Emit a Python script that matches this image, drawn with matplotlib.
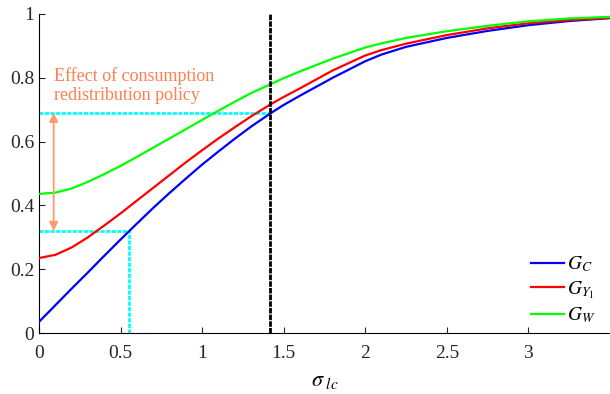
import matplotlib
matplotlib.use("Agg")
import matplotlib.pyplot as plt

plt.rcParams['font.family'] = ['Liberation Serif', 'DejaVu Serif']
plt.rcParams['mathtext.fontset'] = 'stix'

# values
sigma = [0, 0.1, 0.2, 0.3, 0.4, 0.5, 0.6, 0.7, 0.8, 0.9, 1.0, 1.1, 1.2, 1.3, 1.42,
         1.5, 1.6, 1.8, 2.0, 2.1, 2.25, 2.5, 2.75, 3.0, 3.25, 3.5]
g_c = [0.035, 0.087, 0.139, 0.19, 0.242, 0.293, 0.343, 0.392, 0.439, 0.484, 0.528,
       0.569, 0.609, 0.647, 0.689, 0.715, 0.744, 0.80, 0.852, 0.873, 0.897, 0.925,
       0.947, 0.965, 0.978, 0.987]
g_y1 = [0.235, 0.245, 0.268, 0.30, 0.337, 0.375, 0.415, 0.455, 0.495, 0.535, 0.573,
        0.61, 0.645, 0.679, 0.717, 0.74, 0.767, 0.823, 0.87, 0.887, 0.907, 0.934,
        0.955, 0.971, 0.981, 0.988]
g_w = [0.436, 0.44, 0.453, 0.474, 0.498, 0.524, 0.552, 0.581, 0.61, 0.639, 0.668,
       0.697, 0.725, 0.752, 0.78, 0.799, 0.82, 0.86, 0.895, 0.908, 0.925, 0.946,
       0.963, 0.977, 0.986, 0.991]

sigma_star = 1.414   # vertical reference
x_low, y_low = 0.55, 0.32
y_high = 0.69
arrow_x = 0.09

xticks = [0, 0.5, 1, 1.5, 2, 2.5, 3]
xticklabels = ['0', '0.5', '1', '1.5', '2', '2.5', '3']
yticks = [0, 0.2, 0.4, 0.6, 0.8, 1]
yticklabels = ['0', '0.2', '0.4', '0.6', '0.8', '1']

fig = plt.figure(figsize=(6.1, 3.94), dpi=100)
ax = fig.add_axes([39/610, 61/394, 571/610, 319/394])

cyan = '#00FFFF'
ax.plot([0, sigma_star], [y_high, y_high], color=cyan, lw=2, ls=(0, (1.5, 0.5)), zorder=2)
ax.plot([0, x_low], [y_low, y_low], color=cyan, lw=2, ls=(0, (1.5, 0.5)), zorder=2)
ax.plot([x_low, x_low], [0, y_low], color=cyan, lw=2, ls=(0, (1.5, 0.5)), zorder=2)
ax.plot([sigma_star, sigma_star], [0, 1], color='black', lw=2, ls=(0, (2, 0.4)), zorder=4)

ax.plot(sigma, g_c, color='#0000FF', lw=1.6, label='$G_C$', zorder=3)
ax.plot(sigma, g_y1, color='#FF0000', lw=1.6, label='$G_{Y_1}$', zorder=3)
ax.plot(sigma, g_w, color='#00FF00', lw=1.6, label='$G_W$', zorder=3)

ax.annotate('', xy=(arrow_x, y_high), xytext=(arrow_x, y_low),
            arrowprops=dict(arrowstyle='<|-|>', color='#FF9A70', lw=1.3,
                            mutation_scale=13, shrinkA=0, shrinkB=0))
ax.text(arrow_x, 0.835, 'Effect of consumption\nredistribution policy',
        color='#FF7F50', fontsize=13, va='top', ha='left', linespacing=1.2)

ax.set_xlim(0, 3.5)
ax.set_ylim(0, 1)
ax.set_xticks(xticks)
ax.set_xticklabels(xticklabels)
ax.set_yticks(yticks)
ax.set_yticklabels(yticklabels)
ax.tick_params(direction='in', length=4, labelsize=14, colors='#262626')
ax.tick_params(axis='x', pad=9)
for s in ['top', 'right']:
    ax.spines[s].set_visible(False)
ax.set_xlabel(r'$\sigma_{\ lc}$', fontsize=16, labelpad=7)

ax.legend(loc='lower right', frameon=False, fontsize=14, handlelength=1.7,
          handletextpad=0.15, labelspacing=0.25, borderaxespad=0.3,
          bbox_to_anchor=(0.998, -0.018))

fig.savefig('out.png', dpi=100)
